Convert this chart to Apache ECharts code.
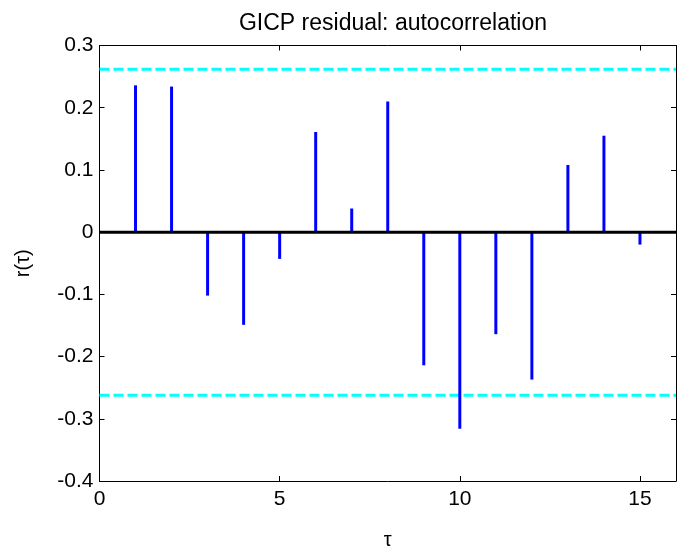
<!DOCTYPE html>
<html>
<head>
<meta charset="utf-8">
<script src="https://cdn.jsdelivr.net/npm/echarts@6/dist/echarts.min.js"></script>
<style>
  html, body { margin: 0; padding: 0; background: #fff; }
  #chart { width: 679px; height: 555px; }
</style>
</head>
<body>
<div id="chart"></div>
<script>
// Lags and sample autocorrelation of the GICP residual
const lags = [1, 2, 3, 4, 5, 6, 7, 8, 9, 10, 11, 12, 13, 14, 15];
const acf = [0.236, 0.234, -0.102, -0.149, -0.043, 0.161, 0.038, 0.210,
             -0.214, -0.316, -0.164, -0.237, 0.108, 0.155, -0.020];
// Confidence bound (±)
const confBound = 0.262;
const xRange = [0, 16];
const yRange = [-0.4, 0.3];
const xTicks = [0, 5, 10, 15];

const chart = echarts.init(document.getElementById('chart'));
const font = 'Liberation Sans, Arial, sans-serif';

const stemData = lags.map((x, i) => [x, acf[i]]);

const baseAxis = {
  axisLine: { show: true, onZero: false, lineStyle: { color: '#000', width: 1 } },
  axisTick: { show: true, inside: true, length: 5, lineStyle: { color: '#000', width: 1 } },
  splitLine: { show: false },
  axisLabel: { color: '#000', fontFamily: font, fontSize: 21 }
};

chart.setOption({
  animation: false,
  backgroundColor: '#fff',
  title: {
    text: 'GICP residual: autocorrelation',
    left: 388, top: 7, textAlign: 'center',
    textStyle: { fontFamily: font, fontSize: 23, fontWeight: 'normal', color: '#000' }
  },
  grid: { left: 99.5, right: 2, top: 45.5, bottom: 62 },
  xAxis: [
    Object.assign({}, baseAxis, {
      type: 'value', min: xRange[0], max: xRange[1], interval: 5,
      position: 'bottom',
      name: 'τ', nameLocation: 'middle', nameGap: 49,
      nameTextStyle: { fontFamily: font, fontSize: 20, color: '#000' },
      axisLabel: Object.assign({}, baseAxis.axisLabel, {
        margin: 8,
        formatter: v => (xTicks.indexOf(v) >= 0 ? String(v) : '')
      })
    }),
    Object.assign({}, baseAxis, {
      type: 'value', min: xRange[0], max: xRange[1], interval: 5,
      position: 'top',
      axisLabel: { show: false }
    })
  ],
  yAxis: [
    Object.assign({}, baseAxis, {
      type: 'value', min: yRange[0], max: yRange[1], interval: 0.1,
      position: 'left',
      name: 'r(τ)', nameLocation: 'middle', nameGap: 66,
      nameTextStyle: { fontFamily: font, fontSize: 20, color: '#000' },
      axisLabel: Object.assign({}, baseAxis.axisLabel, {
        margin: 6,
        formatter: v => {
          const r = Math.round(v * 10) / 10;
          return r === 0 ? '0' : r.toFixed(1);
        }
      })
    }),
    Object.assign({}, baseAxis, {
      type: 'value', min: yRange[0], max: yRange[1], interval: 0.1,
      position: 'right',
      axisLabel: { show: false }
    })
  ],
  series: [
    {
      // upper confidence bound
      type: 'line', xAxisIndex: 0, yAxisIndex: 0,
      data: [[xRange[0], confBound], [xRange[1], confBound]],
      symbol: 'none', silent: true,
      lineStyle: { color: '#00FFFF', width: 3, type: [10, 4] },
      z: 2
    },
    {
      // lower confidence bound
      type: 'line', xAxisIndex: 0, yAxisIndex: 0,
      data: [[xRange[0], -confBound], [xRange[1], -confBound]],
      symbol: 'none', silent: true,
      lineStyle: { color: '#00FFFF', width: 3, type: [10, 4] },
      z: 2
    },
    {
      // stems
      type: 'custom', xAxisIndex: 0, yAxisIndex: 0,
      data: stemData,
      renderItem: (params, api) => {
        const p0 = api.coord([api.value(0), 0]);
        const p1 = api.coord([api.value(0), api.value(1)]);
        return {
          type: 'line',
          shape: { x1: p0[0], y1: p0[1], x2: p1[0], y2: p1[1] },
          style: { stroke: '#0000FF', lineWidth: 3 }
        };
      },
      z: 3
    },
    {
      // zero baseline
      type: 'line', xAxisIndex: 0, yAxisIndex: 0,
      data: [[xRange[0], 0], [xRange[1], 0]],
      symbol: 'none', silent: true,
      lineStyle: { color: '#000', width: 3 },
      z: 4
    }
  ]
});
</script>
</body>
</html>
